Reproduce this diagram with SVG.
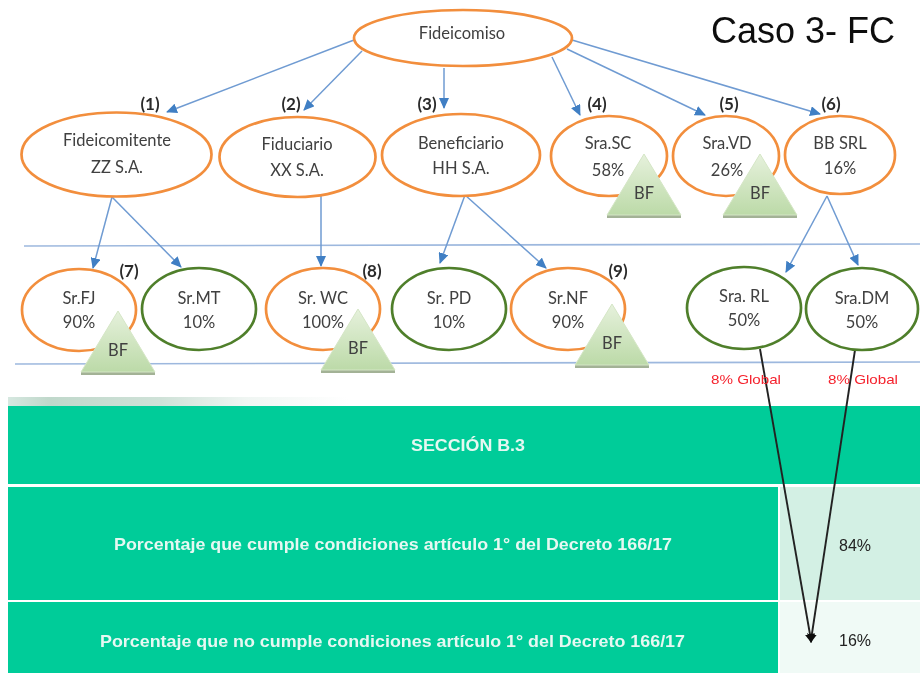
<svg xmlns="http://www.w3.org/2000/svg" width="920" height="673" viewBox="0 0 920 673">
<style>
.o{fill:#fff;stroke:#f28e3c;stroke-width:2.7}
.g{fill:#fff;stroke:#4f7f2c;stroke-width:2.7}
.t{font-family:Lato,"Liberation Sans",sans-serif;font-size:16.5px;fill:#404040;text-anchor:middle}
.n{font-family:Lato,"Liberation Sans",sans-serif;font-size:17px;font-weight:700;fill:#2b2b2b;text-anchor:middle}
.w{font-family:"Liberation Sans",sans-serif;font-size:16.5px;font-weight:700;fill:#e6f8f2;text-anchor:middle}
.p{font-family:"Liberation Sans",sans-serif;font-size:16px;fill:#222;text-anchor:middle}
.r{font-family:"Liberation Sans",sans-serif;font-size:13px;fill:#f5222d;text-anchor:middle}
.b{stroke:#6f9bd2;stroke-width:1.5;fill:none;marker-end:url(#ab)}
.k{stroke:#222;stroke-width:1.9;fill:none}
.l{stroke:#9db8de;stroke-width:1.6;fill:none}
.tri{fill:url(#tg);stroke:#d5e6c6;stroke-width:1}
.sh{fill:#a3b296}
</style>
<defs>
<marker id="ab" markerWidth="11" markerHeight="10" refX="10" refY="5" orient="auto" markerUnits="userSpaceOnUse"><path d="M0 0L11 5L0 10Z" fill="#3f7fc4"/></marker>
<marker id="ak" markerWidth="9" markerHeight="10" refX="6" refY="5" orient="auto" markerUnits="userSpaceOnUse"><path d="M0 0L9 5L0 10Z" fill="#111"/></marker>
<linearGradient id="tg" x1="0" y1="0" x2="0" y2="1"><stop offset="0" stop-color="#e6f1dc"/><stop offset="1" stop-color="#bcdaa8"/></linearGradient>
<linearGradient id="st" x1="0" y1="0" x2="1" y2="0"><stop offset="0" stop-color="#d6e8e0"/><stop offset=".12" stop-color="#c0d8cb"/><stop offset=".45" stop-color="#cfe2d8"/><stop offset=".7" stop-color="#f0f6f3"/><stop offset="1" stop-color="#fff"/></linearGradient>
<filter id="s" x="-2%" y="-2%" width="104%" height="104%"><feGaussianBlur stdDeviation="0.5"/></filter>
<symbol id="bf" overflow="visible"><path class="sh" d="M-37 61H37V64H-37Z"/><path class="tri" d="M0 0L37 61H-37Z"/><text class="t" y="45">BF</text></symbol>
</defs>
<rect width="920" height="673" fill="#fff"/>
<g filter="url(#s)">
<g id="bands">
<rect x="8" y="397" width="340" height="9" fill="url(#st)"/>
<rect x="8" y="406" width="912" height="78" fill="#00cc99"/>
<rect x="8" y="487" width="770" height="113" fill="#00cc99"/>
<rect x="780" y="487" width="140" height="113" fill="#d3f0e4"/>
<rect x="8" y="602" width="770" height="71" fill="#00cc99"/>
<rect x="780" y="602" width="140" height="71" fill="#f0faf6"/>
<text class="w" x="468" y="451" textLength="114" lengthAdjust="spacingAndGlyphs">SECCIÓN B.3</text>
<text class="w" x="393" y="550" textLength="558" lengthAdjust="spacingAndGlyphs">Porcentaje que cumple condiciones artículo 1° del Decreto 166/17</text>
<text class="w" x="392.5" y="647" textLength="585" lengthAdjust="spacingAndGlyphs">Porcentaje que no cumple condiciones artículo 1° del Decreto 166/17</text>
<text class="p" x="855" y="551">84%</text>
<text class="p" x="855" y="646">16%</text>
</g>
<g id="separators">
<path class="l" d="M24 246L920 244"/>
<path class="l" d="M15 364L920 362"/>
</g>
<g id="connectors">
<path class="b" d="M354 40L167 112"/>
<path class="b" d="M362 51L304 110"/>
<path class="b" d="M444 68V108"/>
<path class="b" d="M552 57L580 115"/>
<path class="b" d="M567 49L705 115"/>
<path class="b" d="M572 40L820 114"/>
<path class="b" d="M112 197L93 268"/>
<path class="b" d="M112 197L181 267"/>
<path class="b" d="M321 195V266"/>
<path class="b" d="M465 195L440 263"/>
<path class="b" d="M465 195L546 268"/>
<path class="b" d="M827 196L786 272"/>
<path class="b" d="M827 196L858 265"/>
<path class="k" d="M760 349L811 640" marker-end="url(#ak)"/>
<path class="k" d="M855 350L811 640" marker-end="url(#ak)"/>
</g>
<g id="fideicomiso"><ellipse class="o" cx="463" cy="38" rx="109" ry="28"/><text class="t" x="462" y="39">Fideicomiso</text></g>
<g id="fideicomitente"><ellipse class="o" cx="116.5" cy="154.5" rx="95" ry="42"/><text class="t" x="117" y="146">Fideicomitente</text><text class="t" x="117" y="173">ZZ S.A.</text></g>
<g id="fiduciario"><ellipse class="o" cx="297.5" cy="157" rx="78" ry="40"/><text class="t" x="297" y="150">Fiduciario</text><text class="t" x="297" y="176">XX S.A.</text></g>
<g id="beneficiario"><ellipse class="o" cx="461" cy="155" rx="79" ry="41"/><text class="t" x="461" y="149">Beneficiario</text><text class="t" x="461" y="174">HH S.A.</text></g>
<g id="sra-sc"><ellipse class="o" cx="609" cy="156" rx="58" ry="40"/><text class="t" x="608" y="149">Sra.SC</text><text class="t" x="608" y="176">58%</text><use href="#bf" x="644" y="154"/></g>
<g id="sra-vd"><ellipse class="o" cx="726" cy="156" rx="53" ry="40"/><text class="t" x="727" y="149">Sra.VD</text><text class="t" x="727" y="176">26%</text><use href="#bf" x="760" y="154"/></g>
<g id="bb-srl"><ellipse class="o" cx="840" cy="155" rx="55" ry="39"/><text class="t" x="840" y="149">BB SRL</text><text class="t" x="840" y="174">16%</text></g>
<g id="sr-fj"><ellipse class="o" cx="79" cy="310" rx="57" ry="41"/><text class="t" x="79" y="304">Sr.FJ</text><text class="t" x="79" y="328">90%</text><use href="#bf" x="118" y="311"/></g>
<g id="sr-mt"><ellipse class="g" cx="199" cy="309" rx="57" ry="41"/><text class="t" x="199" y="304">Sr.MT</text><text class="t" x="199" y="328">10%</text></g>
<g id="sr-wc"><ellipse class="o" cx="323" cy="309" rx="57" ry="41"/><text class="t" x="323" y="304">Sr. WC</text><text class="t" x="323" y="328">100%</text><use href="#bf" x="358" y="309"/></g>
<g id="sr-pd"><ellipse class="g" cx="449" cy="309" rx="57" ry="41"/><text class="t" x="449" y="304">Sr. PD</text><text class="t" x="449" y="328">10%</text></g>
<g id="sr-nf"><ellipse class="o" cx="568" cy="309" rx="57" ry="41"/><text class="t" x="568" y="304">Sr.NF</text><text class="t" x="568" y="328">90%</text><use href="#bf" x="612" y="304"/></g>
<g id="sra-rl"><ellipse class="g" cx="744" cy="308" rx="57" ry="41"/><text class="t" x="744" y="302">Sra. RL</text><text class="t" x="744" y="326">50%</text></g>
<g id="sra-dm"><ellipse class="g" cx="862" cy="309" rx="56" ry="41"/><text class="t" x="862" y="304">Sra.DM</text><text class="t" x="862" y="328">50%</text></g>
<g id="labels">
<text class="n" x="150" y="110">(1)</text><text class="n" x="291" y="110">(2)</text><text class="n" x="427" y="110">(3)</text>
<text class="n" x="597" y="110">(4)</text><text class="n" x="729" y="110">(5)</text><text class="n" x="831" y="110">(6)</text>
<text class="n" x="129" y="277">(7)</text><text class="n" x="372" y="277">(8)</text><text class="n" x="618" y="277">(9)</text>
<text class="r" x="746" y="384" textLength="70" lengthAdjust="spacingAndGlyphs">8%  Global</text><text class="r" x="863" y="384" textLength="70" lengthAdjust="spacingAndGlyphs">8%  Global</text>
<text x="803" y="43" font-family="Liberation Sans,sans-serif" font-size="36" fill="#111" text-anchor="middle">Caso 3- FC</text>
</g>
</g>
</svg>
